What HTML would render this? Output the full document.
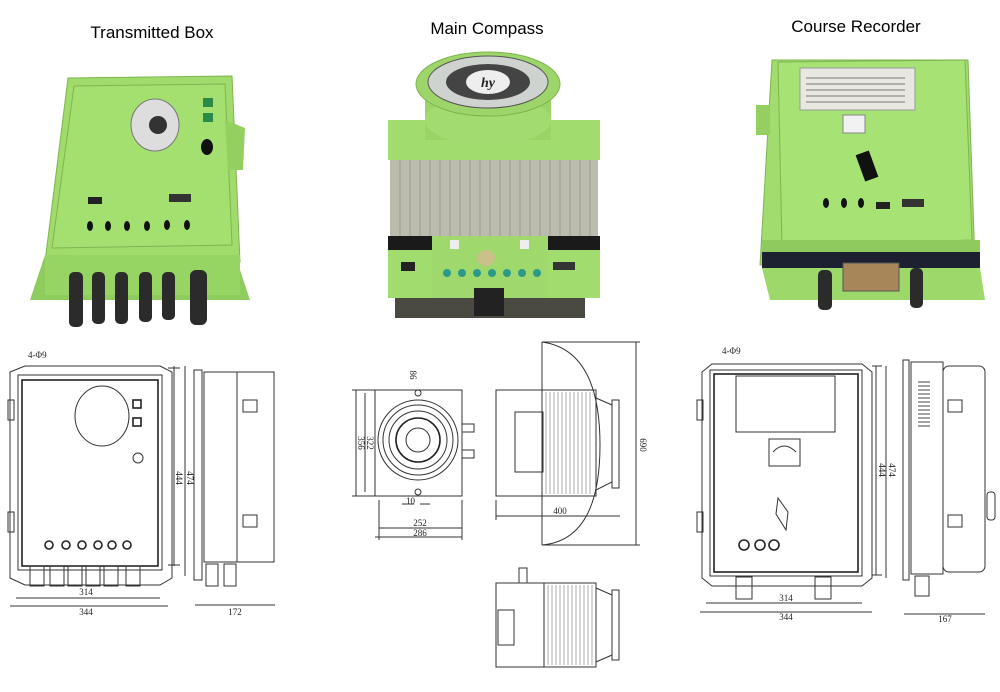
<!DOCTYPE html>
<html><head><meta charset="utf-8"><style>
html,body{margin:0;padding:0;background:#fff}
svg{display:block}
.t{font-family:"Liberation Sans",sans-serif;font-size:17px;fill:#000}
.d{font-family:"Liberation Serif",serif;font-size:9px;fill:#222}
.l{fill:none;stroke:#333;stroke-width:1}
.l2{fill:none;stroke:#222;stroke-width:1.6}
</style></head><body>
<svg width="1000" height="692" viewBox="0 0 1000 692" xmlns="http://www.w3.org/2000/svg">
<rect width="1000" height="692" fill="#fff"/>
<text class="t" x="152" y="38" text-anchor="middle">Transmitted Box</text>
<text class="t" x="487" y="34" text-anchor="middle">Main Compass</text>
<text class="t" x="856" y="32" text-anchor="middle">Course Recorder</text>

<!-- Left photo -->
<polygon points="30,300 45,255 235,255 250,300" fill="#8fcc5e"/>
<polygon points="68,78 232,76 240,262 45,262" fill="#9fdc6c" stroke="#7fb450"/>
<polygon points="74,86 225,84 232,245 52,248" fill="#a4e070" stroke="#80b450"/>
<rect x="45" y="255" width="195" height="40" fill="#96d464"/>
<polygon points="225,120 245,128 243,170 228,170" fill="#94d060"/>
<ellipse cx="155" cy="125" rx="24" ry="26" fill="#ddd" stroke="#777"/>
<circle cx="158" cy="125" r="9" fill="#333"/>
<rect x="203" y="98" width="10" height="9" fill="#2a8a4a"/><rect x="203" y="113" width="10" height="9" fill="#2a8a4a"/>
<ellipse cx="207" cy="147" rx="6" ry="8" fill="#111"/>
<rect x="88" y="197" width="14" height="7" fill="#222"/><rect x="169" y="194" width="22" height="8" fill="#333"/>
<g fill="#111"><ellipse cx="90" cy="226" rx="3" ry="5"/><ellipse cx="108" cy="226" rx="3" ry="5"/><ellipse cx="127" cy="226" rx="3" ry="5"/><ellipse cx="147" cy="226" rx="3" ry="5"/><ellipse cx="167" cy="225" rx="3" ry="5"/><ellipse cx="187" cy="225" rx="3" ry="5"/></g>
<g fill="#2b2b2b"><rect x="69" y="272" width="14" height="55" rx="5"/><rect x="92" y="272" width="13" height="52" rx="5"/><rect x="115" y="272" width="13" height="52" rx="5"/><rect x="139" y="272" width="13" height="50" rx="5"/><rect x="162" y="272" width="13" height="48" rx="5"/><rect x="190" y="270" width="17" height="55" rx="6"/></g>

<!-- Middle photo -->
<rect x="388" y="120" width="212" height="40" fill="#a0dc6e"/>
<rect x="425" y="90" width="126" height="50" fill="#9ad468"/>
<ellipse cx="488" cy="120" rx="63" ry="25" fill="#a2dc70"/>
<ellipse cx="488" cy="84" rx="72" ry="32" fill="#9dd56a" stroke="#7fb450"/>
<ellipse cx="488" cy="82" rx="60" ry="26" fill="#cfd3cf" stroke="#555"/>
<ellipse cx="488" cy="82" rx="42" ry="18" fill="#444"/>
<ellipse cx="488" cy="82" rx="22" ry="12" fill="#eee"/>
<text x="488" y="87" text-anchor="middle" font-family="Liberation Serif,serif" font-style="italic" font-weight="bold" font-size="14" fill="#222">hy</text>
<rect x="390" y="160" width="208" height="76" fill="#bcbcae"/>
<g stroke="#9a9a90" stroke-width="1"><path d="M400 160V236M410 160V236M420 160V236M430 160V236M440 160V236M450 160V236M460 160V236M470 160V236M480 160V236M490 160V236M500 160V236M510 160V236M520 160V236M530 160V236M540 160V236M550 160V236M560 160V236M570 160V236M580 160V236M590 160V236"/></g>
<rect x="388" y="236" width="212" height="14" fill="#1a1a1a"/>
<rect x="388" y="250" width="212" height="48" fill="#a0dc6e"/>
<rect x="432" y="236" width="116" height="62" fill="#9fd86d"/>
<rect x="450" y="240" width="9" height="9" fill="#eee"/><rect x="520" y="240" width="9" height="9" fill="#eee"/>
<ellipse cx="486" cy="258" rx="9" ry="8" fill="#cbbf8a"/>
<g fill="#2c9a8a"><circle cx="447" cy="273" r="4"/><circle cx="462" cy="273" r="4"/><circle cx="477" cy="273" r="4"/><circle cx="492" cy="273" r="4"/><circle cx="507" cy="273" r="4"/><circle cx="522" cy="273" r="4"/><circle cx="537" cy="273" r="4"/></g>
<rect x="401" y="262" width="14" height="9" fill="#222"/><rect x="553" y="262" width="22" height="8" fill="#333"/>
<rect x="395" y="298" width="190" height="20" fill="#4a4a42"/>
<rect x="474" y="288" width="30" height="28" fill="#222"/>

<!-- Right photo -->
<polygon points="760,265 772,60 968,60 975,265" fill="#a0dc6e" stroke="#7fb450"/>
<polygon points="778,62 965,60 972,240 782,246" fill="#a6e274" stroke="#80b450"/>
<rect x="762" y="240" width="218" height="12" fill="#8fca5e"/>
<rect x="762" y="252" width="218" height="16" fill="#1c2030"/>
<polygon points="762,268 980,268 985,300 770,300" fill="#9cd86a"/>
<rect x="756" y="105" width="14" height="30" fill="#94d060"/>
<rect x="800" y="68" width="115" height="42" fill="#e8e8e0" stroke="#999"/>
<g stroke="#777" stroke-width="1"><path d="M806 78H905M806 84H905M806 90H905M806 96H905M806 102H905"/></g>
<rect x="843" y="115" width="22" height="18" fill="#f2f2f2" stroke="#888"/>
<rect x="860" y="152" width="14" height="28" fill="#111" transform="rotate(-20 867 166)"/>
<g fill="#111"><ellipse cx="826" cy="203" rx="3" ry="5"/><ellipse cx="844" cy="203" rx="3" ry="5"/><ellipse cx="861" cy="203" rx="3" ry="5"/></g>
<rect x="876" y="202" width="14" height="7" fill="#222"/><rect x="902" y="199" width="22" height="8" fill="#333"/>
<rect x="843" y="263" width="56" height="28" fill="#a7865a" stroke="#555"/>
<g fill="#2b2b2b"><rect x="818" y="270" width="14" height="40" rx="5"/><rect x="910" y="268" width="13" height="40" rx="5"/></g>

<!-- Left drawings -->
<g class="l">
<path d="M10 372 L25 366 L160 366 L172 372 L172 578 L160 585 L25 585 L10 578 Z"/>
<rect x="18" y="375" width="144" height="195"/>
<rect x="22" y="380" width="136" height="186" class="l2"/>
<ellipse cx="102" cy="416" rx="27" ry="30"/>
<rect x="133" y="400" width="8" height="8" class="l2"/><rect x="133" y="418" width="8" height="8" class="l2"/>
<circle cx="138" cy="458" r="5"/>
<circle cx="49" cy="545" r="4" class="l2"/><circle cx="66" cy="545" r="4" class="l2"/><circle cx="82" cy="545" r="4" class="l2"/><circle cx="98" cy="545" r="4" class="l2"/><circle cx="112" cy="545" r="4" class="l2"/><circle cx="127" cy="545" r="4" class="l2"/>
<rect x="30" y="566" width="14" height="20"/><rect x="50" y="566" width="14" height="20"/><rect x="68" y="566" width="14" height="20"/><rect x="86" y="566" width="14" height="20"/><rect x="104" y="566" width="14" height="20"/><rect x="126" y="566" width="14" height="20"/>
<path d="M16 598H160M10 606H168M168 368H180M168 565H180M174 366V566M185 366V576"/>
<rect x="194" y="370" width="8" height="210"/>
<rect x="204" y="372" width="33" height="190"/>
<rect x="237" y="372" width="37" height="190"/>
<rect x="243" y="400" width="14" height="12"/><rect x="243" y="515" width="14" height="12"/>
<rect x="206" y="564" width="12" height="22"/><rect x="224" y="564" width="12" height="22"/>
<path d="M195 605H275"/>
<rect x="8" y="400" width="6" height="20"/><rect x="8" y="512" width="6" height="20"/>
</g>
<text class="d" x="28" y="358">4-Φ9</text>
<text class="d" x="86" y="595" text-anchor="middle">314</text>
<text class="d" x="86" y="615" text-anchor="middle">344</text>
<text class="d" x="235" y="615" text-anchor="middle">172</text>
<text class="d" x="176" y="478" transform="rotate(90 176 478)" text-anchor="middle">444</text>
<text class="d" x="187" y="478" transform="rotate(90 187 478)" text-anchor="middle">474</text>

<!-- Middle drawings -->
<g class="l">
<rect x="375" y="390" width="87" height="106"/>
<circle cx="418" cy="440" r="40"/><circle cx="418" cy="440" r="35"/><circle cx="418" cy="440" r="29"/>
<circle cx="418" cy="440" r="22" class="l2" stroke-width="6"/>
<circle cx="418" cy="440" r="12"/>
<circle cx="418" cy="393" r="3"/><circle cx="418" cy="492" r="3"/>
<rect x="462" y="424" width="12" height="8"/><rect x="462" y="450" width="12" height="8"/>
<path d="M352 390H375M352 496H375M356 390V496M365 393V492M379 500V540M462 500V540M379 528H462M375 537H462M402 504H414M420 504H430"/>
<rect x="496" y="390" width="46" height="106"/>
<rect x="542" y="390" width="54" height="106"/>
<path d="M596 398L612 405V482L596 490M612 400V488H619V400Z"/>
<rect x="515" y="412" width="28" height="60"/>
<path d="M542 342V545M542 342Q600 350 600 445Q600 540 542 545M542 342H640M542 545H640M636 342V545M496 500V520M496 516H620"/>
<rect x="496" y="583" width="48" height="84"/>
<rect x="544" y="583" width="52" height="84"/>
<path d="M596 588L612 595V655L596 662M612 590V660H619V590Z"/>
<rect x="498" y="610" width="16" height="35"/>
<rect x="519" y="568" width="8" height="15"/>
</g>
<g stroke="#888" stroke-width="0.7"><path d="M546 392V494M550 392V494M554 392V494M558 392V494M562 392V494M566 392V494M570 392V494M574 392V494M578 392V494M582 392V494M586 392V494M590 392V494"/>
<path d="M548 585V665M552 585V665M556 585V665M560 585V665M564 585V665M568 585V665M572 585V665M576 585V665M580 585V665M584 585V665M588 585V665M592 585V665"/></g>
<text class="d" x="406" y="504">10</text>
<text class="d" x="420" y="526" text-anchor="middle">252</text>
<text class="d" x="420" y="536" text-anchor="middle" dy="0">286</text>
<text class="d" x="560" y="514" text-anchor="middle">400</text>
<text class="d" x="640" y="445" transform="rotate(90 640 445)" text-anchor="middle">690</text>
<text class="d" x="358" y="443" transform="rotate(90 358 443)" text-anchor="middle">356</text>
<text class="d" x="367" y="443" transform="rotate(90 367 443)" text-anchor="middle">322</text>
<text class="d" x="410" y="375" transform="rotate(90 410 375)" text-anchor="middle">86</text>

<!-- Right drawings -->
<g class="l">
<path d="M702 372 L712 364 L862 364 L872 372 L872 578 L862 586 L712 586 L702 578 Z"/>
<rect x="710" y="370" width="152" height="206"/>
<rect x="714" y="374" width="144" height="198" class="l2"/>
<rect x="736" y="376" width="99" height="56"/>
<rect x="769" y="439" width="31" height="27"/>
<path d="M773 452Q784 440 796 452"/>
<path d="M778 498L788 512L786 530L776 514Z"/>
<circle cx="744" cy="545" r="5" class="l2"/><circle cx="760" cy="545" r="5" class="l2"/><circle cx="774" cy="545" r="5" class="l2"/>
<rect x="736" y="577" width="16" height="22"/><rect x="815" y="577" width="16" height="22"/>
<path d="M706 603H862M700 612H872M872 366H882M872 575H882M876 366V575M886 366V578"/>
<rect x="903" y="360" width="6" height="220"/>
<rect x="911" y="362" width="32" height="212"/>
<rect x="943" y="366" width="42" height="206" rx="6"/>
<rect x="948" y="400" width="14" height="12"/><rect x="948" y="515" width="14" height="12"/>
<rect x="987" y="492" width="8" height="28" rx="3"/>
<rect x="915" y="576" width="14" height="20"/>
<path d="M904 614H985"/>
<rect x="697" y="400" width="6" height="20"/><rect x="697" y="512" width="6" height="20"/>
</g>
<g stroke="#444" stroke-width="1"><path d="M918 382H930M918 386H930M918 390H930M918 394H930M918 398H930M918 402H930M918 406H930M918 410H930M918 414H930M918 418H930M918 422H930M918 426H930"/></g>
<text class="d" x="722" y="354">4-Φ9</text>
<text class="d" x="786" y="601" text-anchor="middle">314</text>
<text class="d" x="786" y="620" text-anchor="middle">344</text>
<text class="d" x="945" y="622" text-anchor="middle">167</text>
<text class="d" x="879" y="470" transform="rotate(90 879 470)" text-anchor="middle">444</text>
<text class="d" x="889" y="470" transform="rotate(90 889 470)" text-anchor="middle">474</text>
</svg>
</body></html>
